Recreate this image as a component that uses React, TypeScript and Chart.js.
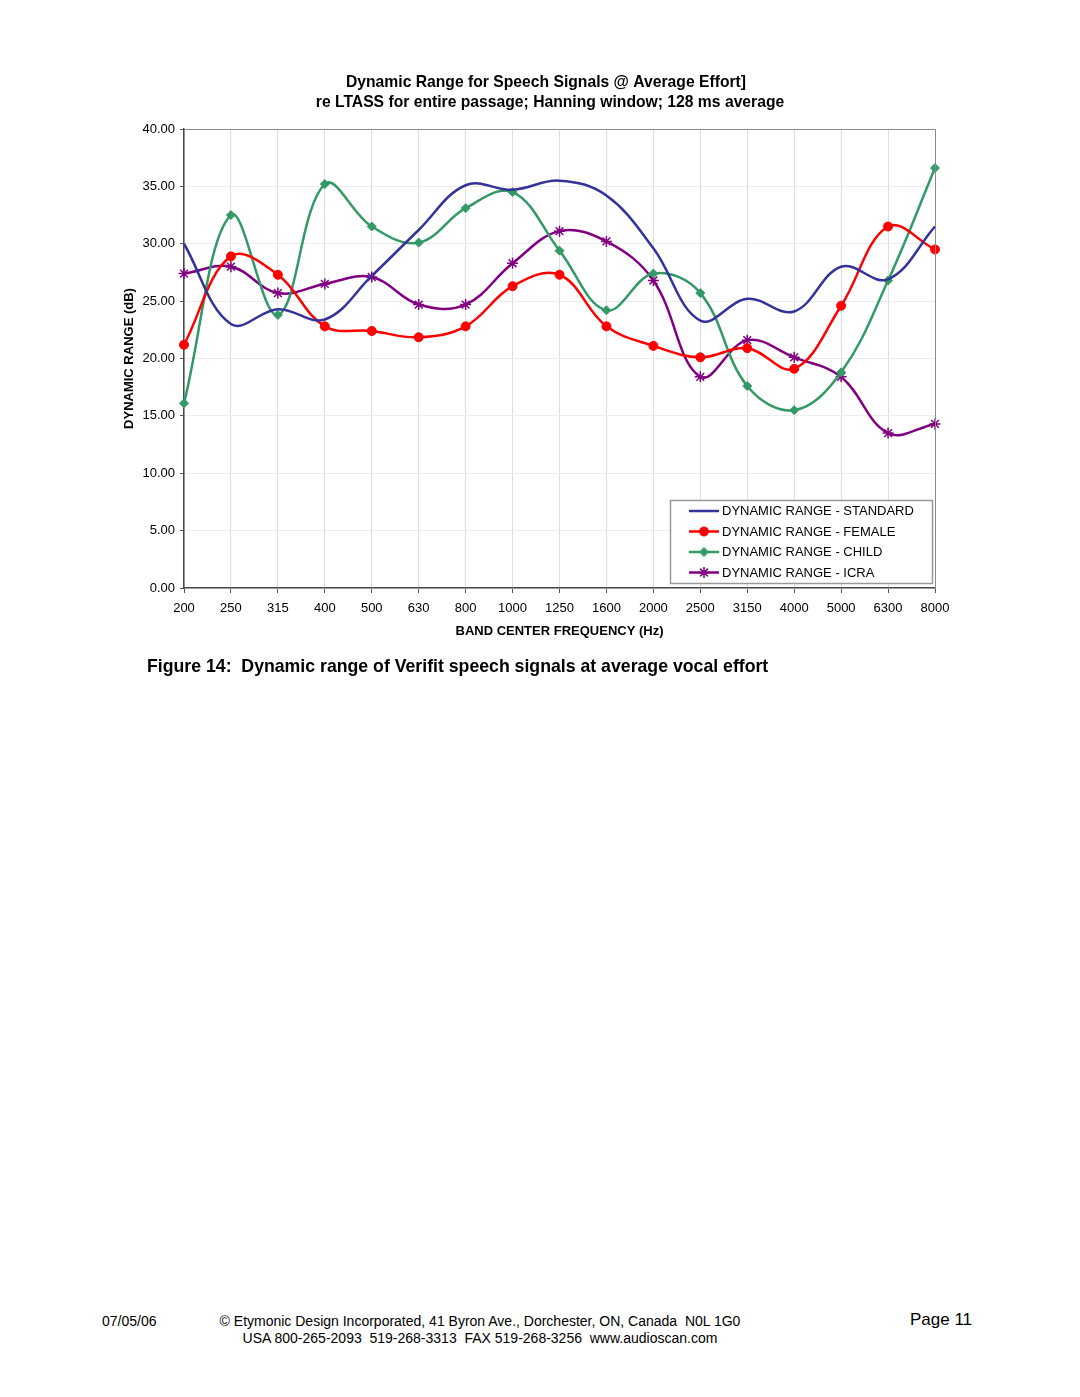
import React, { useEffect, useRef } from "react";
import { Chart, registerables } from "chart.js";
import { drawPoint } from "chart.js/helpers";

Chart.register(...registerables);

const frequencies = ["200", "250", "315", "400", "500", "630", "800", "1000", "1250", "1600", "2000", "2500", "3150", "4000", "5000", "6300", "8000"];
const standardRange = [30.0, 23.0, 24.3, 23.4, 27.2, 31.2, 35.1, 34.7, 35.5, 34.2, 29.6, 23.3, 25.2, 24.1, 28.0, 26.9, 31.5];
const femaleRange = [21.2, 28.9, 27.3, 22.8, 22.4, 21.85, 22.8, 26.3, 27.3, 22.8, 21.1, 20.1, 20.9, 19.1, 24.6, 31.5, 29.5];
const childRange = [16.1, 32.5, 23.8, 35.2, 31.5, 30.1, 33.1, 34.5, 29.4, 24.2, 27.4, 25.7, 17.6, 15.5, 18.8, 26.8, 36.6];
const icraRange = [27.4, 28.0, 25.7, 26.5, 27.1, 24.7, 24.7, 28.3, 31.1, 30.2, 26.8, 18.4, 21.6, 20.1, 18.4, 13.5, 14.3];
const seriesNames = ["DYNAMIC RANGE - STANDARD", "DYNAMIC RANGE - FEMALE", "DYNAMIC RANGE - CHILD", "DYNAMIC RANGE - ICRA"];
const yTicks = [0, 5, 10, 15, 20, 25, 30, 35, 40];
const chartTitle = ["Dynamic Range for Speech Signals @ Average Effort]", "re LTASS for entire passage; Hanning window; 128 ms average"];
const yTitle = "DYNAMIC RANGE (dB)";
const xTitle = "BAND CENTER FREQUENCY (Hz)";

const FONT = "'Liberation Sans', Arial, Helvetica, sans-serif";

const decorPlugin = {
  id: "decor",
  afterDraw(chart: any) {
    const { ctx, chartArea: ca } = chart;
    ctx.save();
    // top & right frame
    ctx.strokeStyle = "#8a8a8a";
    ctx.lineWidth = 1;
    ctx.beginPath();
    ctx.moveTo(ca.left, ca.top + 0.5);
    ctx.lineTo(ca.right + 0.5, ca.top + 0.5);
    ctx.lineTo(ca.right + 0.5, ca.bottom);
    ctx.stroke();

    // chart title
    ctx.fillStyle = "#000";
    ctx.textAlign = "center";
    ctx.textBaseline = "middle";
    ctx.font = `bold 15.7px ${FONT}`;
    ctx.fillText(chartTitle[0], 446, 23);
    ctx.fillText(chartTitle[1], 450, 43);

    // axis titles
    ctx.font = `bold 13px ${FONT}`;
    ctx.fillText(xTitle, (ca.left + ca.right) / 2, 571);
    ctx.save();
    ctx.translate(29, (ca.top + ca.bottom) / 2);
    ctx.rotate(-Math.PI / 2);
    ctx.fillText(yTitle, 0, 0);
    ctx.restore();

    // legend
    const lx = 570, ly = 440, lw = 262, lh = 83;
    ctx.fillStyle = "#fff";
    ctx.fillRect(lx, ly, lw, lh);
    ctx.strokeStyle = "#999";
    ctx.lineWidth = 1.5;
    ctx.strokeRect(lx + 0.5, ly + 0.5, lw, lh);
    const rows = [451, 471.5, 492, 512.5];
    chart.data.datasets.forEach((ds: any, i: number) => {
      const y = rows[i];
      ctx.strokeStyle = ds.borderColor;
      ctx.lineWidth = 2.5;
      ctx.beginPath();
      ctx.moveTo(589, y);
      ctx.lineTo(619, y);
      ctx.stroke();
      if (ds.pointRadius > 0) {
        ctx.fillStyle = ds.pointBackgroundColor;
        ctx.strokeStyle = ds.pointBorderColor;
        ctx.lineWidth = ds.pointBorderWidth;
        drawPoint(ctx, { pointStyle: ds.pointStyle, radius: ds.pointRadius, rotation: 0, borderWidth: ds.pointBorderWidth }, 604, y);
      }
      ctx.fillStyle = "#000";
      ctx.textAlign = "left";
      ctx.textBaseline = "middle";
      ctx.font = `13px ${FONT}`;
      ctx.fillText(ds.label, 622, y + 0.5);
    });
    ctx.restore();
  },
};

function ChartBox() {
  const ref = useRef<HTMLCanvasElement | null>(null);
  useEffect(() => {
    if (!ref.current) return;
    const mk = (label: string, data: number[], color: string, style: any, radius: number, bw: number) => ({
      label,
      data,
      borderColor: color,
      backgroundColor: color,
      borderWidth: 2.5,
      tension: 0.38,
      pointStyle: style,
      pointRadius: radius,
      pointBackgroundColor: color,
      pointBorderColor: color,
      pointBorderWidth: bw,
      pointHoverRadius: radius,
    });
    const chart = new Chart(ref.current, {
      type: "line",
      data: {
        labels: frequencies,
        datasets: [
          mk(seriesNames[0], standardRange, "#333399", false, 0, 0),
          mk(seriesNames[1], femaleRange, "#ff0000", "circle", 4.5, 1),
          mk(seriesNames[2], childRange, "#339966", "rectRot", 4.5, 1),
          mk(seriesNames[3], icraRange, "#800080", "star", 5.5, 1.5),
        ] as any,
      },
      options: {
        responsive: false,
        animation: false,
        devicePixelRatio: 1,
        layout: { padding: { top: 69, right: 45, bottom: 0, left: 0 } },
        plugins: {
          legend: { display: false },
          title: { display: false },
          tooltip: { enabled: false },
        },
        scales: {
          x: {
            type: "category",
            offset: false,
            grid: { color: "#dedede", lineWidth: 1, tickLength: 5, tickColor: "#555", drawTicks: true },
            border: { display: true, color: "#4a4a4a", width: 1.5 },
            ticks: { color: "#000", font: { family: FONT, size: 13 }, padding: 8, maxRotation: 0, autoSkip: false },
            afterFit: (s: any) => { s.height = 72; },
          },
          y: {
            min: 0,
            max: 40,
            afterBuildTicks: (s: any) => { s.ticks = yTicks.map((v) => ({ value: v })); },
            grid: { color: "#ececec", lineWidth: 1, tickLength: 4, tickColor: "#555" },
            border: { display: true, color: "#4a4a4a", width: 1.5 },
            ticks: { color: "#000", font: { family: FONT, size: 13 }, padding: 5, callback: (v: any) => Number(v).toFixed(2) },
            afterFit: (s: any) => { s.width = 84; },
          },
        },
      },
      plugins: [decorPlugin],
    });
    return () => chart.destroy();
  }, []);
  return <canvas ref={ref} width={880} height={600} style={{ position: "absolute", left: 100, top: 60, width: 880, height: 600 }} />;
}

export default function App() {
  const narrow = "'Liberation Sans Narrow', 'Arial Narrow', 'Liberation Sans', Arial, sans-serif";
  return (
    <div style={{ position: "absolute", left: 0, top: 0, width: 1080, height: 1397, background: "#fff", fontFamily: FONT, color: "#000", overflow: "hidden" }}>
      <ChartBox />
      <div style={{ position: "absolute", left: 147, top: 656, fontSize: 17.7, fontWeight: "bold", whiteSpace: "pre" }}>
        {"Figure 14:  Dynamic range of Verifit speech signals at average vocal effort"}
      </div>
      <div style={{ position: "absolute", left: 102, top: 1313, fontSize: 14, fontFamily: narrow, whiteSpace: "pre" }}>07/05/06</div>
      <div style={{ position: "absolute", left: 197, width: 566, top: 1313, fontSize: 14, fontFamily: narrow, textAlign: "center", lineHeight: "17px", whiteSpace: "pre" }}>
        {"© Etymonic Design Incorporated, 41 Byron Ave., Dorchester, ON, Canada  N0L 1G0\nUSA 800-265-2093  519-268-3313  FAX 519-268-3256  www.audioscan.com"}
      </div>
      <div style={{ position: "absolute", left: 910, top: 1310, fontSize: 17, fontFamily: narrow, whiteSpace: "pre" }}>Page 11</div>
    </div>
  );
}
